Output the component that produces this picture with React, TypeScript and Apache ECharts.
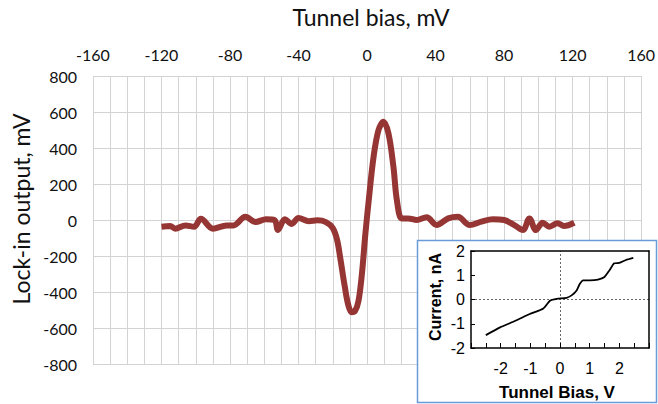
import React, { useEffect, useRef } from "react";
import * as echarts from "echarts";

const biasMv = [-120,-115,-112,-106,-101,-97,-90,-82,-78,-71,-65,-59,-54,-52,-48,-44,-40,-34,-29,-24,-20,-17.5,-15.5,-13,-11,-9,-7,-5,-3,-1,1,3.8,6.7,9.6,12.5,15.4,17.4,20.3,24,29,34.8,40.6,47.4,53,60,66.7,73.5,80,86,91,94.8,98.6,102.5,106.4,111.2,115,121];
const lockinMv = [-37,-33,-48,-30,-37,7,-48,-30,-30,18,-11,4,0,-56,4,-22,11,-7,-2,-12,-45,-110,-220,-370,-470,-512,-505,-450,-300,-80,110,350,500,546,481,296,111,9,9,0,15,-28,9,18,-28,-9,4,0,-28,-56,9,-56,-15,-37,-18,-33,-15];

const ivBiasV = [-2.5,-2.02,-1.5,-1.02,-0.56,-0.33,-0.11,0.22,0.39,0.56,0.67,0.78,1.0,1.28,1.5,1.67,1.83,2.0,2.22,2.47];
const ivCurrentNa = [-1.47,-1.15,-0.875,-0.6,-0.37,-0.04,0.03,0.07,0.17,0.375,0.65,0.79,0.79,0.82,0.93,1.21,1.49,1.51,1.63,1.72];

const mainXTitle = "Tunnel bias, mV";
const mainYTitle = "Lock-in output, mV";
const insetXTitle = "Tunnel Bias, V";
const insetYTitle = "Current, nA";

export default function App() {
  const ref = useRef<HTMLDivElement>(null);
  useEffect(() => {
    document.body.style.margin = "0";
    const chart = echarts.init(ref.current!, undefined, { renderer: "svg" });
    const gridColor = "#d3d3d3";
    const mainFont = "Lato, 'Open Sans', sans-serif";
    const insetFont = "'Liberation Sans', Arial, sans-serif";
    const frame = { show: true, onZero: false, lineStyle: { color: "#000", width: 1.5 } };
    chart.setOption({
      animation: false,
      backgroundColor: "#fff",
      grid: [
        { left: 93, right: 14, top: 76, bottom: 40, containLabel: false },
        { left: 471, right: 9, top: 251, bottom: 56, show: false, z: 10 },
      ],
      xAxis: [
        {
          gridIndex: 0, type: "value", position: "top", min: -160, max: 160, interval: 40,
          axisLine: { show: true, lineStyle: { color: gridColor } },
          axisTick: { show: true, length: 5, lineStyle: { color: gridColor } },
          axisLabel: { color: "#111", fontSize: 16, fontFamily: mainFont, margin: 14 },
          splitLine: { show: true, lineStyle: { color: gridColor, width: 1 } },
          minorTick: { show: false, splitNumber: 4 },
          minorSplitLine: { show: true, lineStyle: { color: gridColor, width: 1 } },
        },
        {
          gridIndex: 1, type: "value", position: "bottom", min: -3, max: 3, interval: 1, z: 10,
          axisLine: frame,
          axisTick: { show: true, inside: true, length: 5, lineStyle: { color: "#000", width: 1 } },
          minorTick: { show: true, splitNumber: 2, length: 5, lineStyle: { color: "#000", width: 1 } },
          axisLabel: { color: "#000", fontSize: 16, fontFamily: insetFont, margin: 12, showMinLabel: false, showMaxLabel: false },
          splitLine: { show: false },
        },
        {
          gridIndex: 1, type: "value", position: "top", min: -3, max: 3, interval: 1, z: 10,
          axisLine: frame, axisTick: { show: false }, axisLabel: { show: false }, splitLine: { show: false },
        },
      ],
      yAxis: [
        {
          gridIndex: 0, type: "value", min: -800, max: 800, interval: 200,
          axisLine: { show: true, lineStyle: { color: gridColor } },
          axisTick: { show: true, length: 5, lineStyle: { color: gridColor } },
          axisLabel: { color: "#111", fontSize: 16, fontFamily: mainFont, margin: 16 },
          splitLine: { show: true, lineStyle: { color: gridColor, width: 1 } },
        },
        {
          gridIndex: 1, type: "value", position: "left", min: -2, max: 2, interval: 1, z: 10,
          axisLine: frame,
          axisTick: { show: true, inside: true, length: 4, lineStyle: { color: "#000" } },
          axisLabel: { color: "#000", fontSize: 16, fontFamily: insetFont, margin: 6 },
          splitLine: { show: false },
        },
        {
          gridIndex: 1, type: "value", position: "right", min: -2, max: 2, interval: 1, z: 10,
          axisLine: frame, axisTick: { show: false }, axisLabel: { show: false }, splitLine: { show: false },
        },
      ],
      series: [
        {
          type: "line", xAxisIndex: 0, yAxisIndex: 0,
          data: biasMv.map((x, i) => [x, lockinMv[i]]),
          smooth: 0.35, showSymbol: false, symbol: "none",
          lineStyle: { color: "#963634", width: 6 }, z: 2,
        },
        {
          type: "line", xAxisIndex: 1, yAxisIndex: 1, z: 12,
          data: ivBiasV.map((x, i) => [x, ivCurrentNa[i]]),
          smooth: 0.2, showSymbol: false, symbol: "none",
          lineStyle: { color: "#000", width: 1.8 },
          markLine: {
            silent: true, symbol: "none", label: { show: false },
            lineStyle: { color: "#666", type: [2, 2], width: 1 },
            data: [{ xAxis: 0 }, { yAxis: 0 }],
          },
        },
      ],
      graphic: [
        {
          type: "rect", z: 3,
          shape: { x: 417.5, y: 240.5, width: 239, height: 162 },
          style: { fill: "#fff", stroke: "#6a9bd8", lineWidth: 1.5 },
        },
        {
          type: "text", x: 371, y: 17, z: 5,
          style: { text: mainXTitle, font: `23px ${mainFont}`, fill: "#111", align: "center", verticalAlign: "middle", textAlign: "center", textVerticalAlign: "middle" },
        },
        {
          type: "text", x: 21, y: 209, rotation: Math.PI / 2, z: 5,
          style: { text: mainYTitle, font: `23px ${mainFont}`, fill: "#111", align: "center", verticalAlign: "middle", textAlign: "center", textVerticalAlign: "middle" },
        },
        {
          type: "text", x: 557, y: 392, z: 20,
          style: { text: insetXTitle, font: `bold 17px ${insetFont}`, fill: "#000", align: "center", verticalAlign: "middle", textAlign: "center", textVerticalAlign: "middle" },
        },
        {
          type: "text", x: 435, y: 297, rotation: Math.PI / 2, z: 20,
          style: { text: insetYTitle, font: `bold 16px ${insetFont}`, fill: "#000", align: "center", verticalAlign: "middle", textAlign: "center", textVerticalAlign: "middle" },
        },
      ],
    });
    return () => chart.dispose();
  }, []);
  return <div ref={ref} style={{ width: 658, height: 404 }} />;
}
